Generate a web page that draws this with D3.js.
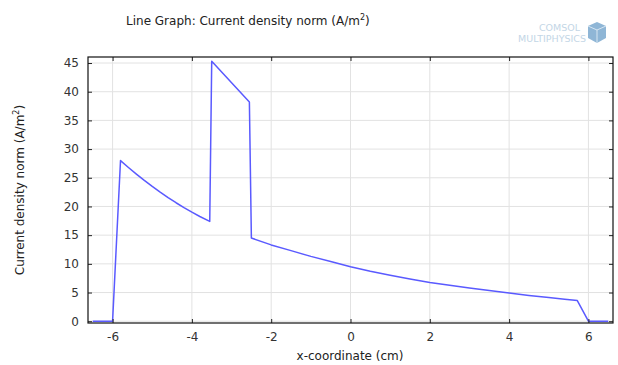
<!DOCTYPE html>
<html><head><meta charset="utf-8">
<script src="https://cdn.jsdelivr.net/npm/d3@7"></script>
<style>body{margin:0;background:#fff;} svg{display:block;}</style>
</head><body>
<svg id="chart" width="618" height="365"></svg>
<script>
const xValues = [-6.5, -6.0, -5.8, -5.6, -5.4, -5.2, -5.0, -4.8, -4.6, -4.4, -4.2, -4.0, -3.8, -3.55, -3.5, -2.55, -2.5, -2.0, -1.5, -1.0, -0.5, 0.0, 0.5, 1.0, 1.5, 2.0, 2.5, 3.0, 3.5, 4.0, 4.5, 5.0, 5.4, 5.72, 6.0, 6.5];
const yValues = [0, 0, 28.0, 26.8, 25.65, 24.55, 23.5, 22.5, 21.55, 20.65, 19.8, 19.0, 18.25, 17.4, 45.3, 38.2, 14.5, 13.3, 12.3, 11.3, 10.4, 9.5, 8.7, 8.0, 7.35, 6.75, 6.25, 5.8, 5.35, 4.9, 4.5, 4.15, 3.85, 3.6, 0, 0];
const xTicks = [-6, -4, -2, 0, 2, 4, 6];
const yTicks = [0, 5, 10, 15, 20, 25, 30, 35, 40, 45];
const title = "Line Graph: Current density norm (A/m";
const xLabel = "x-coordinate (cm)";
const yLabel = "Current density norm (A/m";

const svg = d3.select("#chart");
const L = 88, R = 613, T = 57, B = 323;
const x = d3.scaleLinear().domain([-6.62, 6.62]).range([L, R]);
const y = d3.scaleLinear().domain([-0.31, 46.05]).range([B, T]);
const font = "DejaVu Sans, sans-serif";

// grid
const g = svg.append("g");
g.selectAll(".gx").data(xTicks).join("line")
  .attr("x1", d => x(d)).attr("x2", d => x(d)).attr("y1", T).attr("y2", B)
  .attr("stroke", "#e2e2e2").attr("stroke-width", 1);
g.selectAll(".gy").data(yTicks).join("line")
  .attr("y1", d => y(d)).attr("y2", d => y(d)).attr("x1", L).attr("x2", R)
  .attr("stroke", "#e2e2e2").attr("stroke-width", 1);

// line
const line = d3.line().x((d, i) => x(xValues[i])).y(d => y(d));
svg.append("path").datum(yValues).attr("d", line)
  .attr("fill", "none").attr("stroke", "#5a5aff").attr("stroke-width", 1.5)
  .attr("stroke-linejoin", "round");

// axes with inward ticks
const fmt = d => String(d);
const axB = d3.axisBottom(x).tickValues(xTicks).tickSize(-4).tickPadding(9).tickFormat(fmt);
const axT = d3.axisTop(x).tickValues(xTicks).tickSize(-4).tickFormat("");
const axL = d3.axisLeft(y).tickValues(yTicks).tickSize(-4).tickPadding(9).tickFormat(fmt);
const axR = d3.axisRight(y).tickValues(yTicks).tickSize(-4).tickFormat("");
function style(sel){
  sel.select(".domain").remove();
  sel.selectAll(".tick line").attr("stroke", "#222").attr("stroke-width", 1);
  sel.selectAll("text").attr("fill", "#333").style("font-family", font).style("font-size", "12px");
}
svg.append("g").attr("transform", `translate(0,${B})`).call(axB).call(style);
svg.append("g").attr("transform", `translate(0,${T})`).call(axT).call(style);
svg.append("g").attr("transform", `translate(${L},0)`).call(axL).call(style);
svg.append("g").attr("transform", `translate(${R},0)`).call(axR).call(style);

svg.append("rect").attr("x", L).attr("y", T).attr("width", R - L).attr("height", B - T)
  .attr("fill", "none").attr("stroke", "#111").attr("stroke-width", 1.2);

// title
const t = svg.append("text").attr("x", 126).attr("y", 25)
  .style("font-family", font).style("font-size", "12px").attr("fill", "#222");
t.append("tspan").text(title);
t.append("tspan").attr("dy", -5).style("font-size", "8px").text("2");
t.append("tspan").attr("dy", 5).text(")");

// x label
svg.append("text").attr("x", 350).attr("y", 360).attr("text-anchor", "middle")
  .style("font-family", font).style("font-size", "12px").attr("fill", "#222").text(xLabel);

// y label
const yl = svg.append("text").attr("transform", "translate(24,190) rotate(-90)").attr("text-anchor", "middle")
  .style("font-family", font).style("font-size", "12px").attr("fill", "#222");
yl.append("tspan").text(yLabel);
yl.append("tspan").attr("dy", -5).style("font-size", "8px").text("2");
yl.append("tspan").attr("dy", 5).text(")");

// COMSOL logo
const lg = svg.append("g");
lg.append("text").attr("x", 580).attr("y", 31).attr("text-anchor", "end")
  .style("font-family", font).style("font-size", "9.5px").attr("fill", "#c3d6e6").text("COMSOL");
lg.append("text").attr("x", 586).attr("y", 42).attr("text-anchor", "end")
  .style("font-family", font).style("font-size", "9.5px").attr("fill", "#c3d6e6").text("MULTIPHYSICS");
lg.append("path").attr("d", "M588,26 L597,22 L606,26 L606,38 L597,43 L588,38 Z").attr("fill", "#8fb6d6");
lg.append("path").attr("d", "M588,26 L597,30 L606,26 M597,30 L597,43").attr("stroke", "#d7e6f2").attr("fill", "none");
</script>
</body></html>
